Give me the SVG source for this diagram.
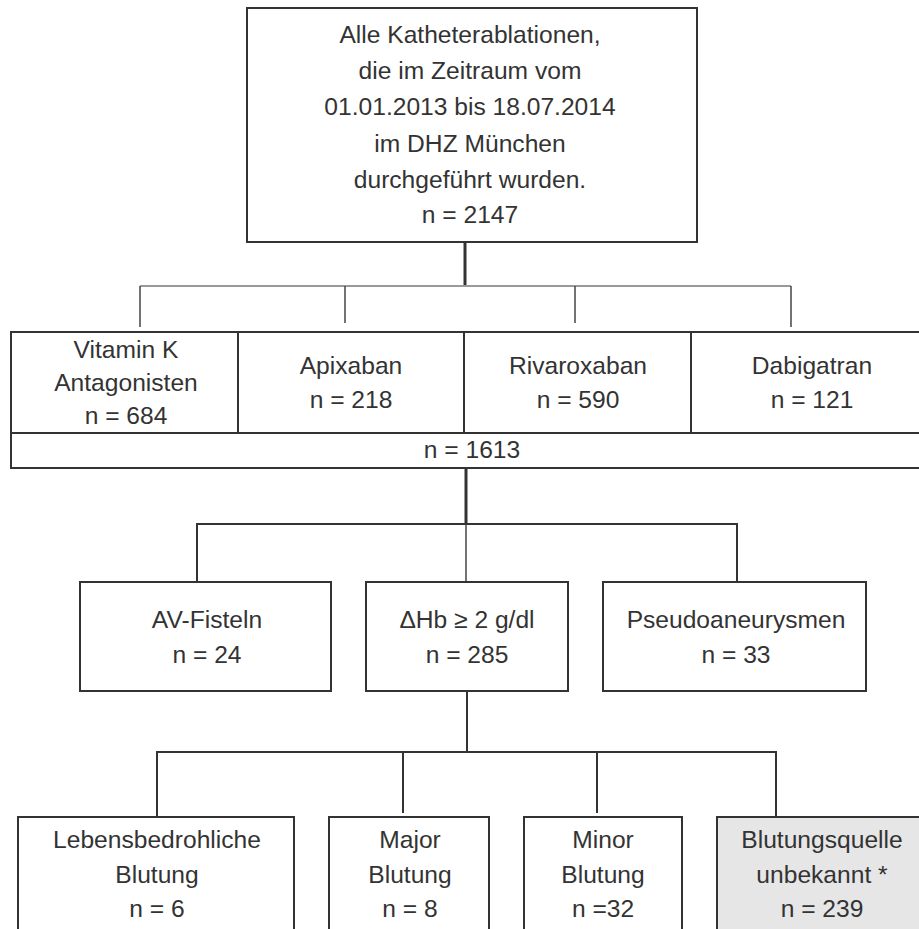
<svg xmlns="http://www.w3.org/2000/svg" width="919" height="929" viewBox="0 0 919 929">
<style>
.box{fill:#ffffff;stroke:#333333;stroke-width:2}
.grey{fill:#e6e6e6;stroke:#333333;stroke-width:2}
.t{font-family:"Liberation Sans",Arial,sans-serif;font-size:24.6px;fill:#333333;text-anchor:middle}
.c{stroke:#333333;stroke-width:2;fill:none}
.cl{stroke:#999999;stroke-width:2;fill:none}
.cs{stroke:#444444;stroke-width:1.5;fill:none}
.ct{stroke:#333333;stroke-width:3;fill:none}
</style>
<rect width="919" height="929" fill="#ffffff"/>
<g id="connectors">
<line class="ct" x1="465" y1="243" x2="465" y2="286"/>
<line class="cl" x1="140" y1="286" x2="791" y2="286"/>
<line class="cs" x1="140" y1="286" x2="140" y2="327"/>
<line class="cs" x1="345" y1="286" x2="345" y2="323"/>
<line class="cs" x1="575" y1="286" x2="575" y2="323"/>
<line class="cs" x1="791" y1="286" x2="791" y2="327"/>
<line class="ct" x1="466" y1="469" x2="466" y2="524"/>
<polyline class="c" points="197,582 197,524 737,524 737,582"/>
<line class="cs" x1="466" y1="524" x2="466" y2="582"/>
<line class="c" x1="467" y1="691" x2="467" y2="752"/>
<polyline class="c" points="157,816 157,752 776,752 776,816"/>
<line class="c" x1="403" y1="752" x2="403" y2="813"/>
<line class="c" x1="597" y1="752" x2="597" y2="813"/>
</g>
<g id="n_all">
<rect class="box" x="247" y="8" width="450" height="234"/>
<text class="t" x="470" y="43">Alle Katheterablationen,</text>
<text class="t" x="470" y="79">die im Zeitraum vom</text>
<text class="t" x="470" y="115">01.01.2013 bis 18.07.2014</text>
<text class="t" x="470" y="152">im DHZ München</text>
<text class="t" x="470" y="188">durchgeführt wurden.</text>
<text class="t" x="470" y="223">n = 2147</text>
</g>
<g id="n_vka">
<rect class="box" x="11" y="332" width="227" height="101"/>
<text class="t" x="126" y="358">Vitamin K</text>
<text class="t" x="126" y="391">Antagonisten</text>
<text class="t" x="126" y="424">n = 684</text>
</g>
<g id="n_apixaban">
<rect class="box" x="238" y="332" width="226" height="101"/>
<text class="t" x="351" y="374">Apixaban</text>
<text class="t" x="351" y="408">n = 218</text>
</g>
<g id="n_rivaroxaban">
<rect class="box" x="464" y="332" width="227" height="101"/>
<text class="t" x="578" y="374">Rivaroxaban</text>
<text class="t" x="578" y="408">n = 590</text>
</g>
<g id="n_dabigatran">
<rect class="box" x="691" y="332" width="240" height="101"/>
<text class="t" x="812" y="374">Dabigatran</text>
<text class="t" x="812" y="408">n = 121</text>
</g>
<g id="n_total">
<rect class="box" x="11" y="433" width="920" height="35"/>
<text class="t" x="472" y="458">n = 1613</text>
</g>
<g id="n_av">
<rect class="box" x="80" y="582" width="251" height="109"/>
<text class="t" x="207" y="628">AV-Fisteln</text>
<text class="t" x="207" y="663">n = 24</text>
</g>
<g id="n_hb">
<rect class="box" x="366" y="582" width="202" height="109"/>
<text class="t" x="467" y="628">ΔHb ≥ 2 g/dl</text>
<text class="t" x="467" y="663">n = 285</text>
</g>
<g id="n_pseudo">
<rect class="box" x="603" y="582" width="263" height="109"/>
<text class="t" x="736" y="628">Pseudoaneurysmen</text>
<text class="t" x="736" y="663">n = 33</text>
</g>
<g id="n_leben">
<rect class="box" x="18" y="817" width="276" height="130"/>
<text class="t" x="157" y="848">Lebensbedrohliche</text>
<text class="t" x="157" y="883">Blutung</text>
<text class="t" x="157" y="917">n = 6</text>
</g>
<g id="n_major">
<rect class="box" x="329" y="817" width="160" height="130"/>
<text class="t" x="410" y="848">Major</text>
<text class="t" x="410" y="883">Blutung</text>
<text class="t" x="410" y="917">n = 8</text>
</g>
<g id="n_minor">
<rect class="box" x="524" y="817" width="158" height="130"/>
<text class="t" x="603" y="848">Minor</text>
<text class="t" x="603" y="883">Blutung</text>
<text class="t" x="603" y="917">n =32</text>
</g>
<g id="n_unknown">
<rect class="grey" x="717" y="817" width="215" height="130"/>
<text class="t" x="822" y="848">Blutungsquelle</text>
<text class="t" x="822" y="883">unbekannt *</text>
<text class="t" x="822" y="917">n = 239</text>
</g>
</svg>
